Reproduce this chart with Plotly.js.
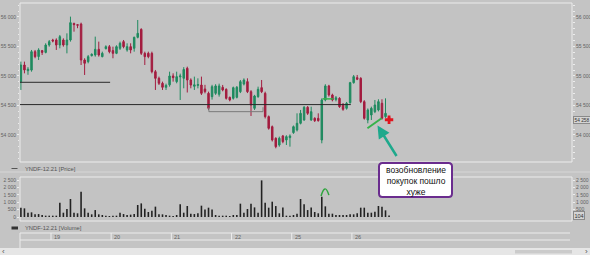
<!DOCTYPE html>
<html>
<head>
<meta charset="utf-8">
<script src="https://cdn.plot.ly/plotly-3.0.1.min.js"></script>
<style>html,body{margin:0;padding:0;background:#c4c4c4;}#chart{width:590px;height:255px;}</style>
</head>
<body>
<div id="chart"></div>
<script>
// ---- data (hourly candles, YNDF-12.21) ----
const dayLabels = ['19','20','21','22','25','26'];
const dayStarts = [9, 26, 43, 60, 77, 94];

const open  = [54904,55186,55090,55100,55412,55330,55430,55400,55525,55610,55610,55525,55610,55525,55610,55890,55870,55880,55271,55243,
               55345,55356,55452,55328,55463,55497,55430,55384,55469,55582,55441,55497,55469,55655,55790,55384,55384,55384,55073,54960,
               54876,54808,54850,55000,54904,54985,54960,55130,54932,54825,54840,54847,54780,54706,54650,54706,54690,54808,54774,54638,
               54621,54638,54734,54864,54904,54734,54452,54650,54802,54706,54311,54141,53944,53830,53983,53915,53955,54040,54085,54198,
               54254,54469,54254,54282,54282,53915,54593,54831,54678,54600,54621,54520,54452,54548,54887,54972,54960,54565,54254,54339,
               54395,54424,54537,54311,54300];
const high  = [55243,55243,55150,55441,55441,55470,55441,55554,55610,55630,55638,55695,55638,55723,56006,55904,55880,55904,55300,55356,
               55384,55667,55582,55412,55520,55525,55497,55520,55582,55610,55554,55554,55667,55949,55808,55412,55412,55412,55102,54989,
               54904,54870,55073,55045,55073,55040,55150,55158,54960,54989,54960,54989,54850,54734,54850,54860,54870,54848,54790,54650,
               54820,54830,54932,54960,54960,54760,54680,54819,54932,54734,54330,54160,53960,53972,54000,53995,54010,54160,54367,54424,
               54490,54490,54480,54300,54367,54620,54860,54850,54700,54660,54640,54540,54560,54900,55017,55017,54980,54590,54450,54480,
               54593,54605,54605,54621,54310];
const low   = [54763,55045,55020,55073,55300,55271,55356,55384,55497,55570,55441,55469,55497,55384,55582,55751,55810,55186,55017,55215,
               55330,55328,55328,55316,55450,55384,55300,55370,55441,55469,55412,55384,55412,55638,55356,55186,55300,55045,54763,54847,
               54763,54763,54819,54904,54876,54593,54791,54720,54791,54763,54790,54678,54706,54424,54600,54680,54650,54740,54600,54570,
               54600,54620,54710,54840,54710,54322,54424,54630,54710,54280,54090,53890,53774,53802,53860,53830,53802,54020,54060,54180,
               54240,54340,54240,54220,54226,53859,54570,54650,54570,54570,54460,54410,54430,54530,54870,54930,54540,54260,54198,54254,
               54370,54400,54260,54290,54240];
const close = [55186,55102,55115,55412,55328,55441,55400,55525,55582,55593,55525,55667,55525,55610,55904,55870,55860,55271,55215,55328,
               55367,55452,55356,55384,55497,55412,55384,55497,55554,55497,55497,55441,55655,55723,55384,55328,55328,55073,54960,54876,
               54808,54840,55000,54972,54989,55000,55110,54932,54847,54850,54855,54706,54735,54452,54819,54831,54831,54763,54621,54593,
               54802,54808,54904,54932,54734,54508,54661,54774,54734,54311,54113,53915,53802,53944,53887,53972,53983,54141,54198,54367,
               54469,54367,54395,54243,54243,54593,54831,54678,54593,54630,54480,54435,54537,54887,54989,54944,54565,54282,54424,54452,
               54508,54565,54282,54367,54258];
const volume = [630,585,290,315,180,200,135,90,90,90,90,970,290,540,1215,290,250,1710,585,290,
                180,470,180,135,90,70,90,90,290,200,135,160,200,810,920,560,340,430,700,180,
                180,135,90,70,135,855,290,745,220,200,250,765,515,630,515,135,90,90,90,70,
                135,135,900,290,540,900,650,290,2475,970,630,1035,740,250,650,90,90,135,225,1215,
                855,470,650,340,250,1370,720,225,225,135,135,135,135,180,180,250,630,630,290,290,
                360,745,700,450,104];

// levels / drawings (price values)
const upperLevel = 54893;
const mainLevel = 54515;
const bracketLevel = 54395;

// ---- helpers ----
const W = 590, H = 255;
const px = v => v / W;
const py = v => 1 - v / H;
const idx = close.map((_, i) => i);
const fmt = v => String(v).replace(/\B(?=(\d{3})+(?!\d))/g, ' ');
const FONT = 'Liberation Sans, Arial, sans-serif';
const LBL = '#626262';
const FRAME = '#ececec';

const traces = [
  {
    type: 'candlestick', x: idx, open: open, high: high, low: low, close: close,
    xaxis: 'x', yaxis: 'y', showlegend: false, hoverinfo: 'skip', whiskerwidth: 0,
    increasing: {line: {color: '#1f8a5f', width: 1}, fillcolor: '#1f8a5f'},
    decreasing: {line: {color: '#a31c3f', width: 1}, fillcolor: '#a31c3f'}
  },
  {
    type: 'bar', x: idx, y: volume, xaxis: 'x', yaxis: 'y2', width: 0.45,
    marker: {color: '#222222'}, showlegend: false, hoverinfo: 'skip'
  },
  {
    type: 'scatter', mode: 'markers', x: [idx[idx.length - 1]], y: [close[close.length - 1]],
    xaxis: 'x', yaxis: 'y', showlegend: false, hoverinfo: 'skip',
    marker: {symbol: 'cross', size: 7, color: '#e0141e'}
  },
  // carriers for the right-hand axes (not visible)
  {type: 'scatter', mode: 'markers', x: [idx[0]], y: [close[0]], xaxis: 'x', yaxis: 'y3', showlegend: false, hoverinfo: 'skip', marker: {opacity: 0}},
  {type: 'scatter', mode: 'markers', x: [idx[0]], y: [volume[0]], xaxis: 'x', yaxis: 'y4', showlegend: false, hoverinfo: 'skip', marker: {opacity: 0}}
];

const priceRange = [53542, 56237];
const volRange = [-270, 2703];

const axFont = {family: FONT, size: 5, color: LBL};
const priceTicks = [54000, 54500, 55000, 55500, 56000];
const volTicks = [0, 500, 1000, 1500, 2000, 2500];

const shapes = [];
const annotations = [];

// frames
shapes.push({type: 'rect', xref: 'paper', yref: 'paper', x0: px(20), x1: px(572), y0: py(162), y1: py(3), line: {color: FRAME, width: 1}, layer: 'below'});
shapes.push({type: 'rect', xref: 'paper', yref: 'paper', x0: px(20), x1: px(572), y0: py(221), y1: py(177), line: {color: FRAME, width: 1}, layer: 'below'});
shapes.push({type: 'line', xref: 'paper', yref: 'paper', x0: 0, x1: 1, y0: py(172), y1: py(172), line: {color: '#d6d6d6', width: 1}});
// date strip
shapes.push({type: 'line', xref: 'paper', yref: 'paper', x0: px(20), x1: px(570), y0: py(233), y1: py(233), line: {color: FRAME, width: 1}});
shapes.push({type: 'line', xref: 'paper', yref: 'paper', x0: px(20), x1: px(570), y0: py(240), y1: py(240), line: {color: FRAME, width: 1}});
shapes.push({type: 'line', xref: 'paper', yref: 'paper', x0: px(20), x1: px(20), y0: py(248), y1: py(233), line: {color: FRAME, width: 1}});
// scrollbar
shapes.push({type: 'rect', xref: 'paper', yref: 'paper', x0: 0, x1: 1, y0: 0, y1: py(248), fillcolor: '#e6e6e6', line: {width: 0}});
shapes.push({type: 'rect', xref: 'paper', yref: 'paper', x0: px(515), x1: px(572), y0: py(253.5), y1: py(250), fillcolor: '#cbcbcb', line: {width: 0}});
// day separators + labels
dayStarts.forEach((s, k) => {
  shapes.push({type: 'line', xref: 'x', yref: 'paper', x0: s - 0.5, x1: s - 0.5, y0: py(240), y1: py(233), line: {color: FRAME, width: 1}});
  annotations.push({xref: 'x', yref: 'paper', x: s - 0.5, y: py(236.5), xanchor: 'left', yanchor: 'middle', xshift: 1,
    text: dayLabels[k], showarrow: false, font: {family: FONT, size: 5.5, color: LBL}});
});
// legend-like labels
shapes.push({type: 'line', xref: 'paper', yref: 'paper', x0: px(11.5), x1: px(17.5), y0: py(168.5), y1: py(168.5), line: {color: '#555', width: 1}});
annotations.push({xref: 'paper', yref: 'paper', x: px(22.5), y: py(168.5), xanchor: 'left', yanchor: 'middle', text: 'YNDF-12.21 [Price]', showarrow: false, font: {family: FONT, size: 5.8, color: '#555'}});
shapes.push({type: 'line', xref: 'paper', yref: 'paper', x0: px(11.5), x1: px(18), y0: py(228), y1: py(228), line: {color: '#333', width: 3}});
annotations.push({xref: 'paper', yref: 'paper', x: px(22.5), y: py(228), xanchor: 'left', yanchor: 'middle', text: 'YNDF-12.21 [Volume]', showarrow: false, font: {family: FONT, size: 5.8, color: '#555'}});
annotations.push({xref: 'paper', yref: 'paper', x: px(3.5), y: py(251.5), xanchor: 'center', yanchor: 'middle', text: '‹', showarrow: false, font: {family: FONT, size: 8, color: '#555'}});
annotations.push({xref: 'paper', yref: 'paper', x: px(586.5), y: py(251.5), xanchor: 'center', yanchor: 'middle', text: '›', showarrow: false, font: {family: FONT, size: 8, color: '#555'}});

// price level lines
shapes.push({type: 'line', xref: 'x', yref: 'y', x0: -0.25, x1: 25.2, y0: upperLevel, y1: upperLevel, line: {color: '#2a2a2a', width: 1}});
shapes.push({type: 'line', xref: 'x', yref: 'y', x0: -0.25, x1: 93.2, y0: mainLevel, y1: mainLevel, line: {color: '#2a2a2a', width: 1}});
shapes.push({type: 'path', xref: 'x', yref: 'y', path: `M 53.1,54470 L 53.1,${bracketLevel} L 68.4,${bracketLevel} L 68.4,54470`, line: {color: '#7a7a7a', width: 1}});
// green drawings
shapes.push({type: 'line', xref: 'x', yref: 'y', x0: 85.2, x1: 88.2, y0: 54612, y1: 54612, line: {color: '#36b24a', width: 1.5}});
shapes.push({type: 'line', xref: 'x', yref: 'y', x0: 97.9, x1: 101.9, y0: 54114, y1: 54283, line: {color: '#36b24a', width: 2}});
shapes.push({type: 'path', xref: 'x', yref: 'y2', path: 'M 84.8,1420 Q 85.9,2350 87.0,1480', line: {color: '#2fa53e', width: 1.5}});

// annotation box (rounded)
(function () {
  const x1 = 379, x2 = 452, y1 = 163, y2 = 197, r = 3.5;
  const p = (x, y) => `${px(x)},${py(y)}`;
  const path = `M ${p(x1 + r, y1)} L ${p(x2 - r, y1)} Q ${p(x2, y1)} ${p(x2, y1 + r)} L ${p(x2, y2 - r)} Q ${p(x2, y2)} ${p(x2 - r, y2)} L ${p(x1 + r, y2)} Q ${p(x1, y2)} ${p(x1, y2 - r)} L ${p(x1, y1 + r)} Q ${p(x1, y1)} ${p(x1 + r, y1)} Z`;
  shapes.push({type: 'path', xref: 'paper', yref: 'paper', path: path, fillcolor: '#ffffff', line: {color: '#6a2c8e', width: 2}});
})();
annotations.push({xref: 'paper', yref: 'paper', x: px(415.5), y: py(180.5), xanchor: 'center', yanchor: 'middle',
  text: 'возобновление<br>покупок пошло<br>хуже', showarrow: false, align: 'center',
  font: {family: FONT, size: 8.5, color: '#111'}});
// arrow
annotations.push({xref: 'paper', yref: 'paper', x: px(377.5), y: py(125.5), ax: 20, ay: 32, axref: 'pixel', ayref: 'pixel',
  text: '', showarrow: true, arrowhead: 2, arrowsize: 1, arrowwidth: 2.5, arrowcolor: '#1ea98c'});

// last value boxes
annotations.push({xref: 'paper', yref: 'y', x: px(572.5), y: close[close.length - 1], xanchor: 'left', yanchor: 'middle',
  text: fmt(close[close.length - 1]), showarrow: false, bgcolor: '#d4d4d4', bordercolor: '#8a8a8a', borderwidth: 1, borderpad: 0.5,
  font: {family: FONT, size: 4.8, color: '#333'}});
annotations.push({xref: 'paper', yref: 'y2', x: px(572.5), y: volume[volume.length - 1], xanchor: 'left', yanchor: 'middle',
  text: String(volume[volume.length - 1]), showarrow: false, bgcolor: '#d4d4d4', bordercolor: '#8a8a8a', borderwidth: 1, borderpad: 0.5,
  font: {family: FONT, size: 5.5, color: '#333'}});

const yCommon = {
  showgrid: false, zeroline: false, showline: false, ticks: 'outside', ticklen: 2, tickcolor: FRAME, tickwidth: 1,
  tickfont: axFont, tickformat: ',d', fixedrange: true, automargin: false
};

const layout = {
  width: W, height: H, autosize: false,
  margin: {l: 0, r: 0, t: 0, b: 0, pad: 0},
  paper_bgcolor: '#c4c4c4', plot_bgcolor: '#c3c3c3',
  separators: '. ',
  showlegend: false, boxgap: 0.4,
  font: {family: FONT},
  xaxis: {domain: [px(20), px(572)], range: [-0.254, 155.68], showgrid: false, zeroline: false, showticklabels: false,
    ticks: '', showline: false, rangeslider: {visible: false}, fixedrange: true, anchor: 'y2'},
  yaxis: Object.assign({}, yCommon, {domain: [py(162), py(3)], range: priceRange, side: 'left', anchor: 'x',
    tickvals: priceTicks, minor: {dtick: 100, ticks: 'outside', ticklen: 1.5, tickcolor: FRAME}}),
  yaxis3: Object.assign({}, yCommon, {range: priceRange, side: 'right', overlaying: 'y', anchor: 'x',
    tickvals: priceTicks, minor: {dtick: 100, ticks: 'outside', ticklen: 1.5, tickcolor: FRAME}}),
  yaxis2: Object.assign({}, yCommon, {domain: [py(221), py(177)], range: volRange, side: 'left', anchor: 'x', tickvals: volTicks}),
  yaxis4: Object.assign({}, yCommon, {range: volRange, side: 'right', overlaying: 'y2', anchor: 'x', tickvals: volTicks.slice(1)}),
  shapes: shapes,
  annotations: annotations
};

Plotly.newPlot('chart', traces, layout, {staticPlot: true, displayModeBar: false});
</script>
</body>
</html>
